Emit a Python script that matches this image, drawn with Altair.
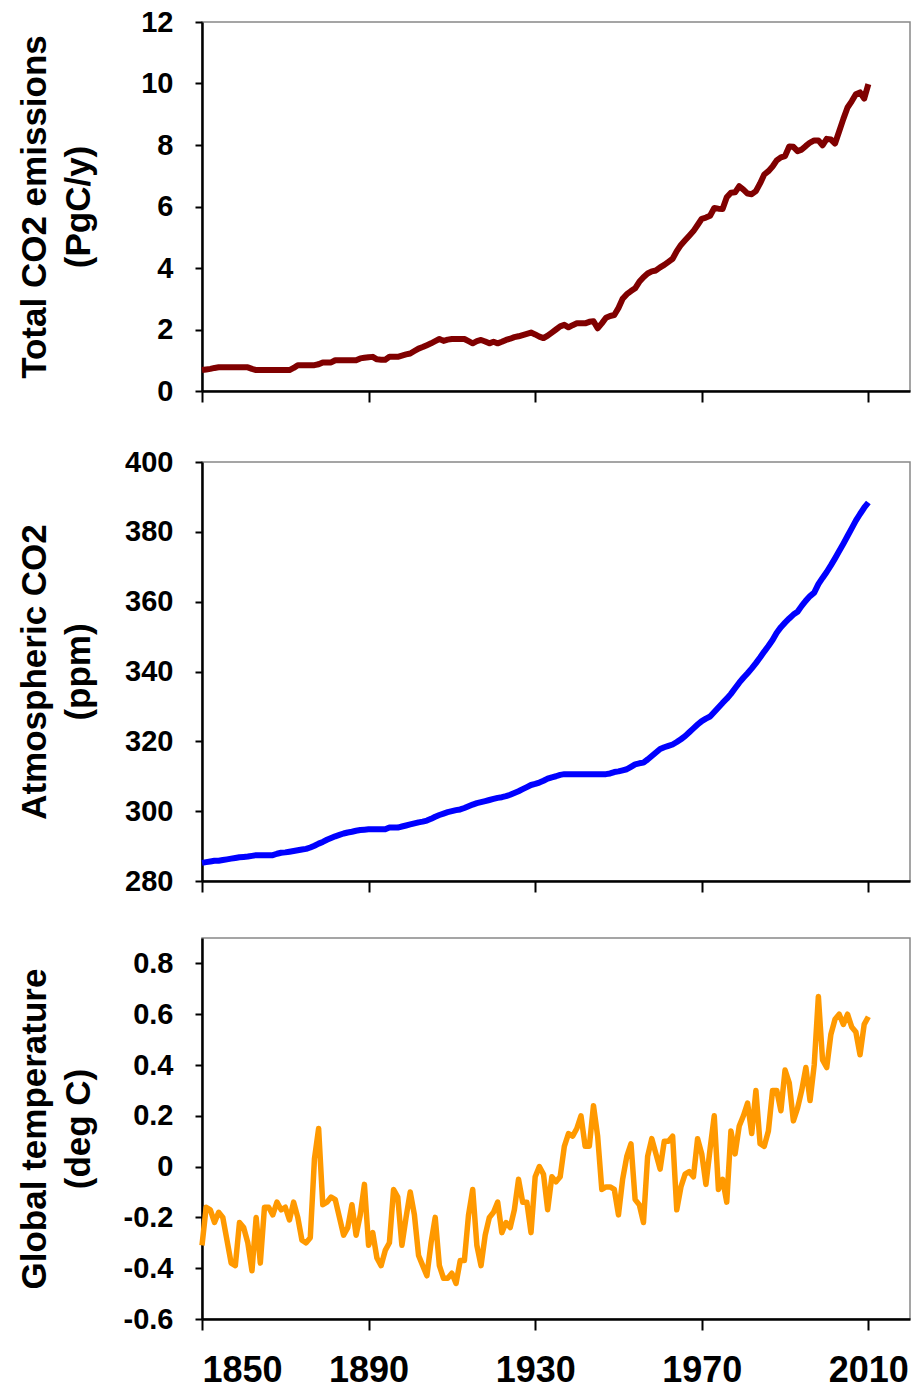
import altair as alt
import pandas as pd

# Annual series, 1850-2010
years = list(range(1850, 2011))

# Total CO2 emissions (PgC/y)
emissions = [
    0.68, 0.70, 0.72, 0.75, 0.77, 0.77, 0.77, 0.77, 0.77, 0.77,
    0.77, 0.77, 0.72, 0.68, 0.68, 0.68, 0.68, 0.68, 0.68, 0.68,
    0.68, 0.68, 0.75, 0.84, 0.84, 0.84, 0.84, 0.84, 0.87, 0.93,
    0.93, 0.93, 1.00, 1.00, 1.00, 1.00, 1.00, 1.00, 1.06, 1.08,
    1.10, 1.11, 1.03, 1.02, 1.02, 1.11, 1.11, 1.11, 1.15, 1.19,
    1.22, 1.30, 1.38, 1.43, 1.49, 1.55, 1.62, 1.69, 1.63, 1.67,
    1.69, 1.69, 1.69, 1.69, 1.62, 1.55, 1.62, 1.66, 1.61, 1.55,
    1.60, 1.55, 1.60, 1.66, 1.70, 1.75, 1.78, 1.82, 1.86, 1.90,
    1.84, 1.77, 1.72, 1.80, 1.90, 2.00, 2.10, 2.15, 2.07, 2.14,
    2.20, 2.20, 2.20, 2.25, 2.27, 2.04, 2.20, 2.38, 2.44, 2.47,
    2.70, 3.00, 3.15, 3.25, 3.34, 3.55, 3.70, 3.82, 3.89, 3.92,
    4.02, 4.10, 4.20, 4.30, 4.55, 4.75, 4.90, 5.05, 5.20, 5.40,
    5.60, 5.64, 5.70, 5.95, 5.93, 5.92, 6.30, 6.45, 6.46, 6.66,
    6.55, 6.42, 6.40, 6.50, 6.75, 7.04, 7.15, 7.30, 7.50, 7.60,
    7.64, 7.95, 7.94, 7.80, 7.85, 7.97, 8.08, 8.15, 8.15, 7.99,
    8.20, 8.18, 8.05, 8.45, 8.85, 9.22, 9.42, 9.65, 9.71, 9.51,
    9.98,
]

# Atmospheric CO2 (ppm)
co2 = [
    285.2, 285.4, 285.6, 285.8, 285.8, 286.0, 286.2, 286.4, 286.6, 286.8,
    286.9, 287.0, 287.2, 287.4, 287.4, 287.4, 287.4, 287.4, 287.8, 288.1,
    288.2, 288.4, 288.6, 288.8, 289.0, 289.2, 289.6, 290.1, 290.7, 291.2,
    291.8, 292.3, 292.8, 293.2, 293.6, 293.9, 294.1, 294.4, 294.6, 294.7,
    294.8, 294.8, 294.8, 294.8, 294.8, 295.3, 295.3, 295.3, 295.6, 295.9,
    296.2, 296.5, 296.8, 297.0, 297.3, 297.8, 298.4, 298.9, 299.3, 299.7,
    300.0, 300.3, 300.5, 300.9, 301.4, 301.9, 302.3, 302.6, 302.9, 303.2,
    303.5, 303.8, 304.0, 304.3, 304.7, 305.2, 305.7, 306.3, 306.9, 307.5,
    307.8, 308.2, 308.7, 309.3, 309.7, 310.0, 310.4, 310.6, 310.6, 310.6,
    310.6, 310.6, 310.6, 310.6, 310.6, 310.6, 310.6, 310.6, 310.8, 311.2,
    311.4, 311.7, 312.0, 312.7, 313.4, 313.7, 313.9, 314.8, 315.8, 316.8,
    317.8, 318.3, 318.7, 319.1, 319.8, 320.6, 321.5, 322.6, 323.7, 324.8,
    325.8, 326.5, 327.1, 328.4, 329.7, 331.0, 332.2, 333.6, 335.2, 336.8,
    338.2, 339.5, 340.9, 342.4, 344.0, 345.7, 347.3, 349.0, 351.1, 352.7,
    354.0, 355.2, 356.3, 357.1, 358.8, 360.3, 361.6, 362.6, 365.0, 366.8,
    368.5, 370.4, 372.4, 374.5, 376.6, 378.8, 381.0, 383.2, 385.1, 386.9,
    388.4,
]

# Global temperature anomaly (deg C)
temperature = [
    -0.31, -0.16, -0.17, -0.22, -0.18, -0.20, -0.29, -0.38, -0.39, -0.22,
    -0.24, -0.30, -0.41, -0.20, -0.38, -0.16, -0.16, -0.19, -0.14, -0.17,
    -0.16, -0.21, -0.14, -0.20, -0.29, -0.30, -0.28, 0.03, 0.15, -0.15,
    -0.14, -0.12, -0.13, -0.20, -0.27, -0.24, -0.15, -0.27, -0.19, -0.07,
    -0.31, -0.26, -0.36, -0.39, -0.33, -0.30, -0.09, -0.12, -0.31, -0.20,
    -0.10, -0.19, -0.35, -0.39, -0.43, -0.30, -0.20, -0.39, -0.44, -0.44,
    -0.42, -0.46, -0.37, -0.37, -0.19, -0.09, -0.31, -0.39, -0.27, -0.20,
    -0.18, -0.14, -0.26, -0.22, -0.24, -0.17, -0.05, -0.14, -0.14, -0.26,
    -0.04, 0.00, -0.03, -0.17, -0.04, -0.06, -0.04, 0.08, 0.13, 0.12,
    0.15, 0.20, 0.08, 0.08, 0.24, 0.12, -0.09, -0.08, -0.08, -0.09,
    -0.19, -0.05, 0.04, 0.09, -0.13, -0.15, -0.22, 0.04, 0.11, 0.05,
    -0.01, 0.10, 0.10, 0.12, -0.17, -0.08, -0.03, -0.02, -0.04, 0.11,
    0.05, -0.07, 0.07, 0.20, -0.09, -0.05, -0.14, 0.14, 0.05, 0.16,
    0.20, 0.25, 0.13, 0.30, 0.09, 0.08, 0.14, 0.30, 0.30, 0.22,
    0.38, 0.33, 0.18, 0.23, 0.30, 0.39, 0.26, 0.40, 0.67, 0.42,
    0.39, 0.52, 0.58, 0.60, 0.56, 0.60, 0.55, 0.53, 0.44, 0.56,
    0.59,
]

year_ticks = [1850, 1890, 1930, 1970, 2010]
emission_ticks = [0, 2, 4, 6, 8, 10, 12]
co2_ticks = [280, 300, 320, 340, 360, 380, 400]
temp_ticks = [-0.6, -0.4, -0.2, 0, 0.2, 0.4, 0.6, 0.8]

df = pd.DataFrame({
    "year": years,
    "emissions": emissions,
    "co2": co2,
    "temperature": temperature,
})

FONT = "Liberation Sans"
PANEL_W = 708
Y_EXTENT = 78  # fixed room for ticks + labels so the titles line up


def panel(field, color, width, title, domain, ticks, height, show_years, label_expr=None):
    x_axis = alt.Axis(
        values=year_ticks,
        labels=show_years,
        format="d",
        title=None,
        tickSize=11,
        labelFont=FONT,
        labelFontSize=36,
        labelFontWeight="bold",
        labelPadding=23,
        labelColor="black",
    )
    y_kwargs = dict(
        values=ticks,
        title=title,
        tickSize=7,
        labelPadding=22,
        titlePadding=28,
        titleLineHeight=44,
        minExtent=Y_EXTENT,
        maxExtent=Y_EXTENT,
    )
    if label_expr is not None:
        y_kwargs["labelExpr"] = label_expr
    return (
        alt.Chart(df)
        .mark_line(color=color, strokeWidth=width, strokeJoin="round", strokeCap="butt")
        .encode(
            x=alt.X("year:Q", scale=alt.Scale(domain=[1850, 2020], nice=False, zero=False), axis=x_axis),
            y=alt.Y(f"{field}:Q", scale=alt.Scale(domain=domain, nice=False, zero=False), axis=alt.Axis(**y_kwargs)),
        )
        .properties(width=PANEL_W, height=height)
    )


top = panel("emissions", "#800000", 6, ["Total CO2 emissions", "(PgC/y)"],
            [0, 12], emission_ticks, 369, False)
middle = panel("co2", "#0000FF", 6, ["Atmospheric CO2", "(ppm)"],
               [280, 400], co2_ticks, 419, False)
bottom = panel("temperature", "#FF9900", 5.5, ["Global temperature", "(deg C)"],
               [-0.6, 0.9], temp_ticks, 381, True,
               label_expr="datum.value == 0 ? '0' : (datum.value < 0 ? '-' : '') + format(abs(datum.value), '.1f')")

chart = (
    alt.vconcat(top, middle, bottom, spacing=40)
    .properties(padding={"left": 16, "top": 7, "right": 10, "bottom": 0})
    .configure(background="white")
    .configure_view(stroke="#888888", strokeWidth=1.5)
    .configure_axis(
        domainColor="black",
        domainWidth=2.5,
        tickColor="black",
        tickWidth=2,
        grid=False,
        labelFont=FONT,
        labelFontSize=29,
        labelFontWeight="bold",
        labelColor="black",
        titleFont=FONT,
        titleFontSize=35,
        titleFontWeight="bold",
        titleColor="black",
    )
)

chart.save("out.html", embed_options={"renderer": "svg", "actions": False})
